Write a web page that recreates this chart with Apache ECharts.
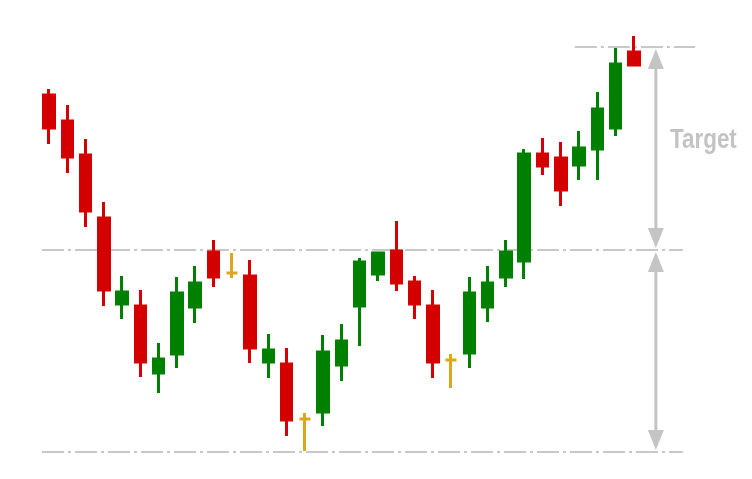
<!DOCTYPE html>
<html><head><meta charset="utf-8">
<script src="https://cdn.jsdelivr.net/npm/echarts@6/dist/echarts.min.js"></script>
<style>html,body{margin:0;padding:0;background:#fff}#c{width:752px;height:479px}</style>
</head><body><div id="c"></div>
<script>
// Candle values (arbitrary price units)
const opens  = [38.4,35.8,32.4,26.1,17.5,17.3,10.6,12.5,17.2,22.7,20.6,20.3,11.7,11.5,6.0,6.7,11.4,17.3,20.5,22.8,19.7,17.3,11.9,12.6,17.2,20.2,21.8,32.5,32.1,31.4,33.0,35.1,42.7];
const closes = [35.1,32.2,26.8,18.9,18.7,11.7,12.0,18.6,19.6,20.2,20.6,13.1,12.9,5.9,6.0,12.7,13.8,21.7,22.6,19.6,17.5,11.7,11.9,18.6,19.6,22.7,32.5,31.3,28.9,33.1,37.0,41.5,41.4];
const lows   = [33.5,30.6,25.2,17.3,16.0,10.2,8.6,11.1,15.6,19.2,20.1,11.6,10.1,4.3,2.8,5.3,9.8,13.3,19.8,18.8,16.0,10.1,9.1,11.1,15.7,19.2,20.0,30.4,27.3,29.9,29.9,34.3,41.4];
const highs  = [39.0,37.4,34.0,27.7,20.3,18.9,13.6,20.2,21.3,23.9,22.6,21.9,14.5,13.1,6.6,14.4,15.5,22.1,22.6,25.8,20.3,18.9,12.5,20.2,21.3,23.9,33.0,34.1,33.7,34.8,38.7,43.1,44.3];

// Pattern levels
const targetLevel = 43.2;
const necklineLevel = 22.9;
const bottomLevel = 2.7;
const targetText = 'Target';

const RED = '#d40000', GREEN = '#008000', GOLD = '#dba81c', GREY = '#c8c8c8', ARROW = '#c4c4c4';

const candleData = opens.map((o, i) => {
  const item = { value: [i, o, closes[i], lows[i], highs[i]] };
  if (o === closes[i]) item.itemStyle = { color: GOLD, borderColor: GOLD, color0: GOLD, borderColor0: GOLD };
  return item;
});

const dashType = [22, 4, 3, 4];
const arrowX = 33.2;

const chart = echarts.init(document.getElementById('c'), null, { renderer: 'canvas' });
chart.setOption({
  animation: false,
  backgroundColor: '#ffffff',
  grid: { left: 0, right: 0, top: 0, bottom: 0 },
  xAxis: { type: 'value', min: -2.68, max: 38.46, show: false, splitLine: { show: false } },
  yAxis: { type: 'value', min: 0, max: 47.9, show: false, splitLine: { show: false } },
  series: [
    {
      type: 'line', symbol: 'none', silent: true,
      lineStyle: { color: GREY, width: 2, type: dashType },
      data: [[-0.38, necklineLevel], [34.68, necklineLevel]], z: 1
    },
    {
      type: 'line', symbol: 'none', silent: true,
      lineStyle: { color: GREY, width: 2, type: dashType },
      data: [[-0.38, bottomLevel], [34.68, bottomLevel]], z: 1
    },
    {
      type: 'line', symbol: 'none', silent: true,
      lineStyle: { color: GREY, width: 2, type: dashType },
      data: [[28.77, targetLevel], [35.34, targetLevel]], z: 1
    },
    {
      type: 'candlestick',
      barWidth: 11,
      encode: { x: 0, y: [1, 2, 3, 4] },
      itemStyle: { color: GREEN, color0: RED, borderColor: GREEN, borderColor0: RED, borderWidth: 3 },
      data: candleData, z: 3
    }
  ]
});

// Measurement arrows, positioned through the chart's own scales
const P = (v) => chart.convertToPixel({ gridIndex: 0 }, [arrowX, v]);
const pT = P(targetLevel), pN = P(necklineLevel), pB = P(bottomLevel);
const ax = pT[0];
const gap = 2, head = 20, half = 8;
function tri(yTip, dir) { // dir: -1 points up, +1 points down
  const yBase = yTip - dir * head;
  return { type: 'polygon', silent: true, shape: { points: [[ax, yTip], [ax - half, yBase], [ax + half, yBase]] }, style: { fill: ARROW } };
}
function shaft(y1, y2) {
  return { type: 'line', silent: true, shape: { x1: ax, y1: y1, x2: ax, y2: y2 }, style: { stroke: ARROW, lineWidth: 3 } };
}
chart.setOption({
  graphic: [
    shaft(pT[1] + gap + head - 1, pN[1] - gap - head + 1),
    shaft(pN[1] + gap + head - 1, pB[1] - gap - head + 1),
    tri(pT[1] + gap, -1),
    tri(pN[1] - gap, 1),
    tri(pN[1] + gap, -1),
    tri(pB[1] - gap, 1),
    {
      type: 'text', silent: true, x: 670, y: 126, scaleX: 0.8,
      style: { text: targetText, fill: '#c3c3c3', font: 'bold 28px "Liberation Sans", Arial, sans-serif' }
    }
  ]
});
</script></body></html>
